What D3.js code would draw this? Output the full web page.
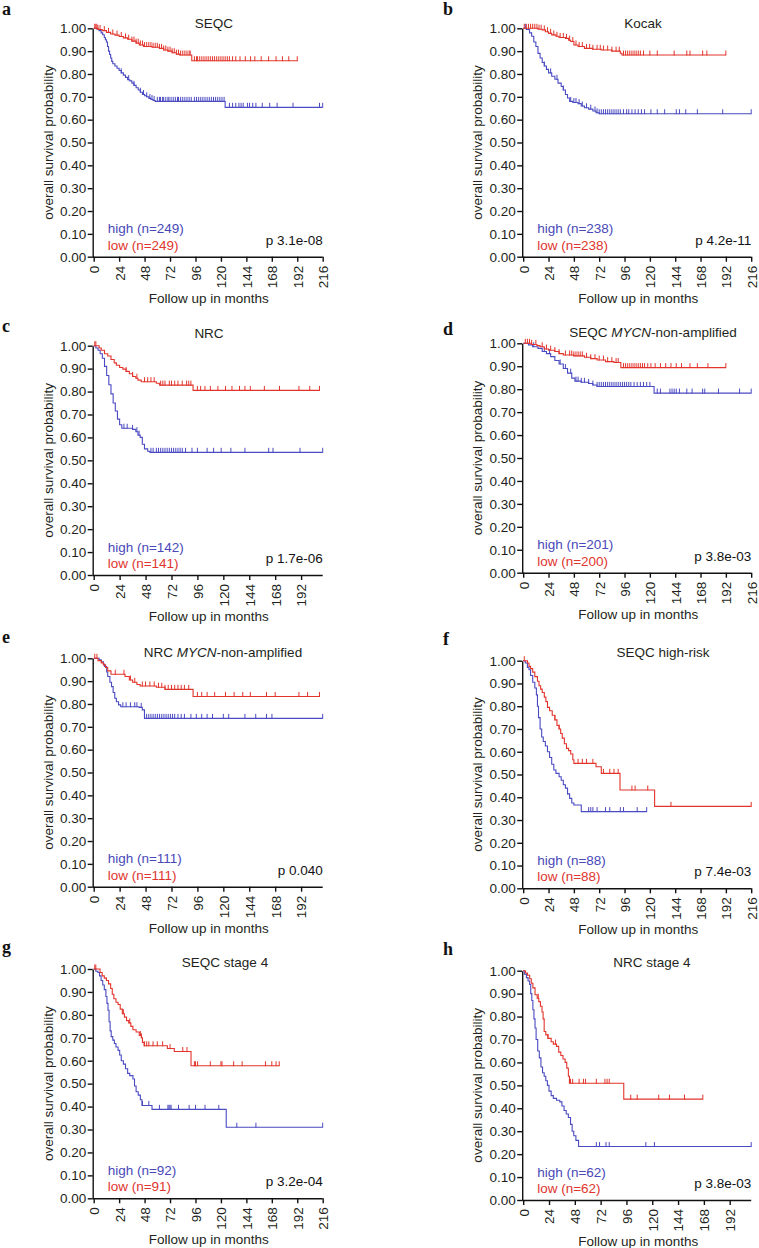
<!DOCTYPE html>
<html>
<head>
<meta charset="utf-8">
<script src="https://cdn.jsdelivr.net/npm/d3@7"></script>
<style>
  html, body { margin: 0; padding: 0; background: #fff; }
  svg { display: block; }
</style>
</head>
<body>
<script>
// ---------------- DATA ----------------
const yTicks = [0, 0.1, 0.2, 0.3, 0.4, 0.5, 0.6, 0.7, 0.8, 0.9, 1.0];
const xTicks = [0, 24, 48, 72, 96, 120, 144, 168, 192, 216];

const panelLetters = ["a", "b", "c", "d", "e", "f", "g", "h"];
const panelTitles = [
  [["SEQC", false]],
  [["Kocak", false]],
  [["NRC", false]],
  [["SEQC ", false], ["MYCN", true], ["-non-amplified", false]],
  [["NRC ", false], ["MYCN", true], ["-non-amplified", false]],
  [["SEQC high-risk", false]],
  [["SEQC stage 4", false]],
  [["NRC stage 4", false]]
];
const nHigh = [249, 238, 142, 201, 111, 88, 92, 62];
const nLow = [249, 238, 141, 200, 111, 88, 91, 62];
const pValues = ["p 3.1e-08", "p 4.2e-11", "p 1.7e-06", "p 3.8e-03", "p 0.040", "p 7.4e-03", "p 3.2e-04", "p 3.8e-03"];

// Kaplan-Meier steps: [month, survival after drop]; censor times in months
const aHighSteps = [[0,1],[3,0.996],[5,0.99],[7,0.98],[8.5,0.972],[10,0.96],[11,0.95],[12,0.94],[13,0.92],[14,0.9],[15,0.885],[16,0.87],[17,0.855],[18,0.845],[20,0.835],[22,0.825],[24,0.815],[26,0.805],[28,0.795],[30,0.785],[32,0.775],[34,0.77],[36,0.76],[38,0.75],[40,0.74],[42,0.73],[44,0.72],[46,0.71],[48,0.705],[50,0.7],[52,0.693],[54,0.688],[56,0.684],[58,0.68],[124,0.654]];
const aHighCens = [26,33,38,44,47,50,53,55,57,60,62,63,65,66,68,70,71,73,75,77,79,80,82,84,86,88,90,92,95,97,99,101,103,105,107,109,111,113,115,117,119,121,123,128,131,134,137,139,141,145,147,150,153,159,166,173,188,213,216];
const aLowSteps = [[0,1],[4,0.995],[8,0.99],[12,0.982],[16,0.975],[20,0.97],[24,0.964],[28,0.958],[32,0.952],[36,0.944],[40,0.935],[43,0.927],[47,0.92],[55,0.917],[62,0.912],[66,0.905],[70,0.9],[74,0.893],[78,0.887],[81,0.883],[92.5,0.858]];
const aLowCens = [1,2,3,4,6,10,14,18,22,26,30,33,36,38,40,42,44,46,48,50,52,54,56,58,60,62,64,66,68,70,72,74,76,78,80,82,84,86,88,90,91,95,97,98,100,102,104,106,108,110,112,114,116,118,120,122,124,126,128,131,134,138,143,148,152,158,165,172,178,184,192];

const bHighSteps = [[0,1],[3,0.995],[6,0.98],[8,0.965],[10,0.94],[12,0.92],[14,0.89],[16,0.87],[18,0.85],[20,0.835],[22,0.82],[24,0.805],[27,0.79],[30,0.777],[33,0.76],[36,0.745],[38,0.73],[40,0.71],[42,0.695],[44,0.68],[47,0.675],[52,0.67],[55,0.66],[58,0.652],[62,0.646],[66,0.638],[69,0.63],[72,0.626]];
const bHighCens = [2,20,26,32,38,45,48,50,53,56,60,64,68,70,72,74,76,78,80,82,84,86,88,90,92,95,98,100,103,106,109,112,115,121,127,134,145,148,154,165,189,216];
const bLowSteps = [[0,1],[14,0.996],[18,0.993],[21,0.985],[24,0.978],[27,0.971],[31,0.965],[34,0.96],[40,0.956],[43,0.948],[45,0.942],[48,0.927],[52,0.92],[58,0.912],[66,0.908],[74,0.905],[84,0.9],[92,0.891],[93.5,0.883]];
const bLowCens = [1,3,5,7,9,11,13,15,17,20,23,26,29,32,35,38,41,44,47,50,53,56,60,63,66,70,73,76,80,84,88,91,95,97,99,101,103,105,107,109,111,114,120,127,143,155,158,170,174,192];

const cHighSteps = [[0,1],[2,0.99],[4,0.98],[6,0.965],[8,0.945],[10,0.91],[12,0.87],[14,0.83],[16,0.79],[18,0.75],[20,0.715],[22,0.68],[24,0.655],[26,0.64],[36,0.635],[39,0.625],[41,0.61],[43,0.6],[45,0.57],[47,0.55],[50,0.54],[52,0.535]];
const cHighCens = [28,31,36,40,42,53,55,58,60,62,64,66,68,70,72,74,76,78,80,82,85,91,96,105,111,118,127,140,162,166,191,212];
const cLowSteps = [[0,1],[5,0.99],[7,0.98],[10,0.965],[13,0.955],[16,0.94],[19,0.925],[21,0.915],[24,0.905],[27,0.898],[30,0.888],[33,0.878],[36,0.866],[39,0.858],[41,0.85],[44,0.843],[58,0.836],[61,0.828],[92,0.805]];
const cLowCens = [1,2,30,36,40,47,50,53,56,62,64,66,70,72,75,78,82,86,88,90,96,99,103,108,115,122,128,135,140,145,158,172,190,200,209];

const dHighSteps = [[0,1],[5,0.993],[9,0.985],[14,0.978],[18,0.964],[22,0.955],[26,0.942],[30,0.925],[34,0.91],[38,0.89],[42,0.87],[46,0.848],[49,0.835],[55,0.83],[62,0.825],[66,0.818],[70,0.812],[124,0.783]];
const dHighCens = [10,20,25,35,40,45,50,52,55,58,62,66,70,72,74,76,78,80,82,84,86,88,90,92,94,96,98,100,102,105,108,111,114,117,120,127,130,139,141,143,145,148,155,160,170,172,185,205,216];
const dLowSteps = [[0,1],[8,0.995],[13,0.99],[16,0.985],[20,0.975],[24,0.97],[30,0.964],[34,0.955],[38,0.949],[48,0.945],[58,0.939],[64,0.933],[70,0.927],[78,0.92],[86,0.916],[92.5,0.894]];
const dLowCens = [2,4,6,8,12,18,22,26,30,34,40,44,46,48,50,52,54,56,60,64,68,72,76,80,84,88,90,95,97,99,101,103,105,107,109,111,113,115,118,121,125,130,135,140,145,150,158,165,175,192];

const eHighSteps = [[0,1],[5,0.993],[7,0.985],[9,0.975],[10,0.964],[12,0.94],[13,0.92],[15,0.895],[16.5,0.876],[18,0.85],[19.5,0.825],[21,0.81],[23,0.796],[25,0.788],[42,0.785],[45,0.774],[47,0.737]];
const eHighCens = [27,30,34,38,40,44,49,51,53,55,57,59,61,63,65,67,69,71,73,75,78,81,84,90,95,100,105,110,120,125,140,150,160,165,212];
const eLowSteps = [[0,1],[4,0.99],[7,0.98],[9,0.971],[11,0.96],[13,0.945],[16,0.93],[29,0.92],[33,0.905],[36,0.895],[40,0.885],[43,0.879],[58,0.873],[66,0.864],[92,0.833]];
const eLowCens = [1,3,20,28,34,38,45,48,52,56,60,63,66,69,72,75,78,81,84,88,96,100,105,112,122,130,138,145,160,168,190,198,209];

const fHighSteps = [[0,1],[2,0.99],[4,0.97],[5.5,0.96],[7,0.935],[9,0.905],[11,0.88],[12.5,0.85],[13.5,0.8],[14.5,0.75],[16,0.7],[17.5,0.665],[19,0.645],[21,0.625],[23,0.6],[25,0.575],[27,0.545],[29,0.52],[31,0.505],[34,0.49],[36,0.475],[38,0.455],[40,0.44],[42,0.415],[44,0.395],[46,0.375],[48,0.366],[55,0.337]];
const fHighCens = [42,62,64,66,70,78,82,92,95,108,117];
const fLowSteps = [[0,1],[4,0.99],[5.5,0.975],[7,0.965],[9,0.95],[11,0.93],[13.5,0.91],[15,0.89],[16.5,0.875],[18,0.86],[20,0.84],[21.5,0.82],[23,0.795],[25,0.78],[27.5,0.76],[30,0.74],[32,0.715],[34,0.7],[35.5,0.68],[37,0.66],[39,0.635],[41,0.615],[43,0.605],[45,0.59],[47,0.565],[48,0.549],[69,0.534],[74,0.505],[91.7,0.432],[124.5,0.36]];
const fLowCens = [1,30,34,52,56,60,66,76,82,86,90,103,106,118,140,216];

const gHighSteps = [[0,1],[2,0.99],[4,0.985],[5.5,0.97],[7,0.95],[8.5,0.93],[10,0.91],[11.5,0.88],[12.5,0.85],[13.5,0.82],[14.5,0.77],[15.5,0.73],[16.5,0.705],[18,0.69],[19.5,0.675],[21,0.66],[23,0.645],[24.5,0.625],[26,0.6],[28,0.585],[30,0.565],[32,0.545],[34,0.535],[37,0.52],[38.5,0.49],[40,0.465],[42,0.45],[44,0.43],[45.5,0.405],[55,0.388],[125,0.31]];
const gHighCens = [46,52,62,70,71,72,73,80,90,96,105,118,135,153,216];
const gLowSteps = [[0,1],[6,0.985],[8,0.97],[10,0.96],[12,0.95],[14,0.935],[16,0.915],[17.5,0.89],[19,0.87],[21,0.855],[23,0.845],[25,0.825],[27,0.805],[29,0.79],[31,0.775],[33,0.765],[35,0.75],[37,0.735],[40,0.725],[43,0.71],[45,0.7],[46,0.68],[47.5,0.665],[69.5,0.653],[76,0.64],[91.8,0.578]];
const gLowCens = [1,2,28,34,44,45,48,50,52,56,60,65,72,84,88,95,96,98,110,120,121,132,140,162,168,172,175];

const hHighSteps = [[0,1],[1,0.985],[3,0.97],[4.5,0.955],[6,0.94],[7,0.9],[8,0.87],[9,0.83],[10,0.79],[11,0.75],[12,0.7],[13.5,0.65],[15,0.62],[16.5,0.58],[18,0.555],[19.5,0.54],[21,0.52],[22.5,0.5],[24,0.475],[26,0.455],[28,0.443],[31,0.435],[34,0.428],[36,0.41],[38,0.39],[40,0.375],[42,0.36],[44,0.33],[45.5,0.3],[47,0.28],[49,0.26],[51.5,0.233]];
const hHighCens = [68,71,77,80,114,122,212];
const hLowSteps = [[0,1],[2,0.99],[4,0.98],[6,0.965],[7.5,0.945],[9,0.925],[11,0.895],[13,0.88],[14.5,0.865],[16,0.845],[17.5,0.82],[18.5,0.79],[19.5,0.735],[21,0.72],[23,0.705],[26,0.69],[28,0.68],[31,0.67],[33,0.645],[35,0.63],[37,0.615],[39,0.6],[40.5,0.575],[42,0.54],[43,0.509],[93.5,0.44]];
const hLowCens = [14,23,30,44,46,52,56,58,68,76,78,80,100,106,126,136,150,167];

const highSteps = [aHighSteps, bHighSteps, cHighSteps, dHighSteps, eHighSteps, fHighSteps, gHighSteps, hHighSteps];
const highCens = [aHighCens, bHighCens, cHighCens, dHighCens, eHighCens, fHighCens, gHighCens, hHighCens];
const lowSteps = [aLowSteps, bLowSteps, cLowSteps, dLowSteps, eLowSteps, fLowSteps, gLowSteps, hLowSteps];
const lowCens = [aLowCens, bLowCens, cLowCens, dLowCens, eLowCens, fLowCens, gLowCens, hLowCens];
const xMaxMonths = [216, 216, 212, 216, 212, 216, 216, 212];
const xTickMax = [216, 216, 192, 216, 192, 216, 216, 192];

// ---------------- LAYOUT (positions / styles) ----------------
const layout = [
  {left: 92.7,  top: 28.3,  bottom: 256.7,  w: 229, lx: 2,   ly: 15,  tx: 214, ty: 28},
  {left: 522.2, top: 28.3,  bottom: 256.7,  w: 228, lx: 443, ly: 15,  tx: 643, ty: 28},
  {left: 92.7,  top: 345.7, bottom: 575,    w: 229, lx: 2,   ly: 332, tx: 209, ty: 338},
  {left: 522.2, top: 343.3, bottom: 572.7,  w: 228, lx: 443, ly: 335, tx: 653, ty: 337},
  {left: 92.7,  top: 658.3, bottom: 886.7,  w: 229, lx: 2,   ly: 643, tx: 223, ty: 657},
  {left: 522.2, top: 660.7, bottom: 888.3,  w: 228, lx: 443, ly: 645, tx: 663, ty: 657},
  {left: 92.7,  top: 969,   bottom: 1198.3, w: 229, lx: 2,   ly: 953, tx: 225, ty: 967},
  {left: 522.2, top: 970.7, bottom: 1200,   w: 228, lx: 443, ly: 955, tx: 652, ty: 967}
];
const FONT = "'Liberation Sans', Arial, Helvetica, sans-serif";
const FS = 13.5;
const TEXT = "#231f20";
const BLUE = "#4a4ac2";
const RED = "#e2342b";
const BLUE_TXT = "#4848b8";
const RED_TXT = "#e0352e";

const svg = d3.select("body").append("svg")
  .attr("width", 759).attr("height", 1248)
  .attr("viewBox", "0 0 759 1248");

function survAt(steps, t) {
  let s = steps[0][1];
  for (const st of steps) { if (st[0] <= t) s = st[1]; else break; }
  return s;
}

panelLetters.forEach((letter, i) => {
  const L = layout[i];
  const g = svg.append("g");
  const x = d3.scaleLinear().domain([0, xMaxMonths[i]]).range([L.left + 1, L.left + 1 + L.w]);
  const y = d3.scaleLinear().domain([0, 1]).range([L.bottom, L.top]);

  // panel letter
  g.append("text").attr("x", L.lx).attr("y", L.ly)
    .attr("font-family", "'Liberation Serif', 'Times New Roman', serif")
    .attr("font-weight", "bold").attr("font-size", 18).attr("fill", "#111")
    .text(letter);

  // title
  const t = g.append("text").attr("x", L.tx).attr("y", L.ty)
    .attr("text-anchor", "middle").attr("font-family", FONT)
    .attr("font-size", FS).attr("fill", TEXT);
  panelTitles[i].forEach(seg => {
    t.append("tspan").attr("font-style", seg[1] ? "italic" : "normal").text(seg[0]);
  });

  // y axis
  const yAxis = g.append("g").attr("transform", `translate(${L.left},0)`)
    .call(d3.axisLeft(y).tickValues(yTicks).tickFormat(d3.format(".2f"))
      .tickSize(5).tickSizeOuter(0).tickPadding(1.5));
  yAxis.selectAll("text").attr("font-family", FONT).attr("font-size", FS).attr("fill", TEXT);
  yAxis.selectAll("line,path").attr("stroke", "#111").attr("stroke-width", 1.4);

  // x axis
  const xAxis = g.append("g").attr("transform", `translate(0,${L.bottom})`)
    .call(d3.axisBottom(x).tickValues(xTicks.filter(v => v <= xTickMax[i]))
      .tickFormat(d3.format("d")).tickSize(5).tickSizeOuter(0));
  xAxis.select(".domain").attr("d", `M${L.left},0.5H${x(xMaxMonths[i])}`);
  xAxis.selectAll("line,path").attr("stroke", "#111").attr("stroke-width", 1.4);
  xAxis.selectAll("text")
    .attr("font-family", FONT).attr("font-size", FS).attr("fill", TEXT)
    .attr("transform", "rotate(-90)")
    .attr("text-anchor", "end")
    .attr("x", -9).attr("y", 0).attr("dy", "0.36em");

  // axis titles
  g.append("text")
    .attr("transform", `translate(${L.left - 40},${(L.top + L.bottom) / 2}) rotate(-90)`)
    .attr("text-anchor", "middle").attr("font-family", FONT).attr("font-size", FS)
    .attr("fill", TEXT).text("overall survival probability");
  g.append("text")
    .attr("x", L.left + 116).attr("y", L.bottom + 46)
    .attr("text-anchor", "middle").attr("font-family", FONT).attr("font-size", FS)
    .attr("fill", TEXT).text("Follow up in months");

  // curves
  const line = d3.line().x(d => x(d[0])).y(d => y(d[1])).curve(d3.curveStepAfter);
  const groups = [
    {steps: highSteps[i], cens: highCens[i], color: BLUE},
    {steps: lowSteps[i], cens: lowCens[i], color: RED}
  ];
  groups.forEach(grp => {
    const end = d3.max(grp.cens);
    const pts = grp.steps.concat([[end, grp.steps[grp.steps.length - 1][1]]]);
    g.append("path").datum(pts).attr("d", line)
      .attr("fill", "none").attr("stroke", grp.color).attr("stroke-width", 1.1);
    g.append("g").selectAll("line").data(grp.cens).join("line")
      .attr("x1", d => x(d)).attr("x2", d => x(d))
      .attr("y1", d => y(survAt(grp.steps, d)) - 4.5)
      .attr("y2", d => y(survAt(grp.steps, d)) + 0.5)
      .attr("stroke", grp.color).attr("stroke-width", 1);
  });

  // legend
  g.append("text").attr("x", L.left + 15).attr("y", L.bottom - 23.5)
    .attr("font-family", FONT).attr("font-size", FS).attr("fill", BLUE_TXT)
    .text(`high (n=${nHigh[i]})`);
  g.append("text").attr("x", L.left + 15).attr("y", L.bottom - 7)
    .attr("font-family", FONT).attr("font-size", FS).attr("fill", RED_TXT)
    .text(`low (n=${nLow[i]})`);
  g.append("text").attr("x", L.left + 1 + L.w).attr("y", L.bottom - 12)
    .attr("text-anchor", "end").attr("font-family", FONT).attr("font-size", FS)
    .attr("fill", "#111").text(pValues[i]);
});
</script>
</body>
</html>
